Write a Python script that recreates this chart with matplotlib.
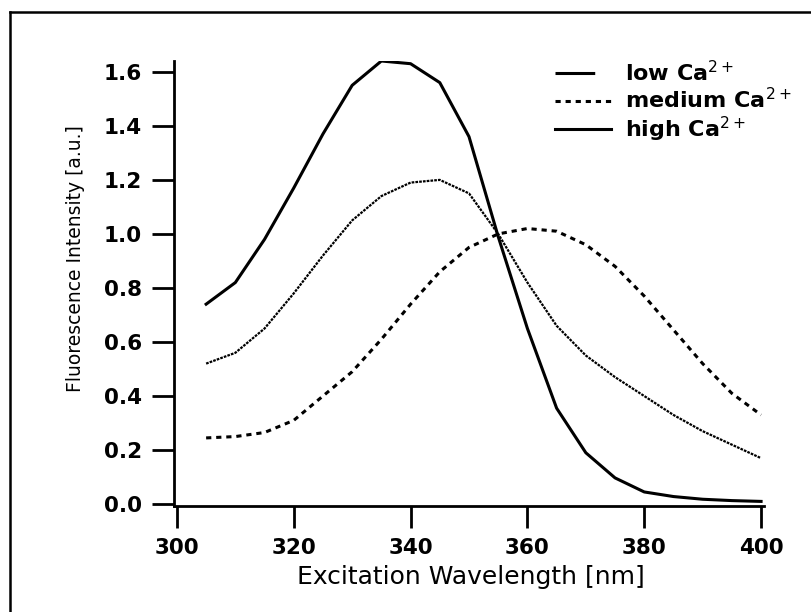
"""
Fluorescence excitation spectra at three Ca2+ levels
"""
import matplotlib
matplotlib.use("Agg")
import matplotlib.pyplot as plt
from matplotlib.lines import Line2D

plt.rcParams['font.family'] = ['DejaVu Sans']

# excitation wavelengths (nm), one point every 5 nm
wavelength = [305, 310, 315, 320, 325, 330, 335, 340, 345, 350,
              355, 360, 365, 370, 375, 380, 385, 390, 395, 400]

# intensities
low_ca = [0.52, 0.56, 0.65, 0.78, 0.92, 1.05, 1.14, 1.19, 1.20, 1.15,
          1.00, 0.82, 0.66, 0.55, 0.47, 0.40, 0.33, 0.27, 0.22, 0.17]
medium_ca = [0.245, 0.25, 0.265, 0.31, 0.40, 0.49, 0.61, 0.74, 0.86, 0.95,
             1.00, 1.02, 1.01, 0.96, 0.88, 0.77, 0.645, 0.52, 0.41, 0.33]
high_ca = [0.74, 0.82, 0.98, 1.17, 1.37, 1.55, 1.64, 1.63, 1.56, 1.36,
           0.99, 0.65, 0.355, 0.19, 0.097, 0.045, 0.028, 0.018, 0.013, 0.01]

x_ticks = [300, 320, 340, 360, 380, 400]
y_ticks = [0.0, 0.2, 0.4, 0.6, 0.8, 1.0, 1.2, 1.4, 1.6]
labels = ["low Ca$^{2+}$", "medium Ca$^{2+}$", "high Ca$^{2+}$"]

fig = plt.figure(figsize=(8.12, 6.12), dpi=100)
ax = fig.add_axes([174 / 812, 106 / 612, 590 / 812, 445 / 612])

# the curves
ax.plot(wavelength, low_ca, color="black", lw=1.6, linestyle=(0, (1.2, 0.5)))
ax.plot(wavelength, medium_ca, color="black", lw=2.2, linestyle=(0, (1.7, 1.6)))
ax.plot(wavelength, high_ca, color="black", lw=2.2)

ax.set_xlim(299.5, 400.5)
ax.set_ylim(-0.007, 1.64)
ax.set_xticks(x_ticks)
ax.set_yticks(y_ticks)
ax.set_yticklabels([f"{v:.1f}" for v in y_ticks])

for side in ["top", "right"]:
    ax.spines[side].set_visible(False)
for side in ["left", "bottom"]:
    ax.spines[side].set_linewidth(2.0)
ax.tick_params(direction="out", length=16, width=2.0, pad=7,
               labelsize=15.5)
for lab in ax.get_xticklabels() + ax.get_yticklabels():
    lab.set_fontweight("bold")

ax.set_xlabel("Excitation Wavelength [nm]", fontsize=18, va="center")
ax.xaxis.set_label_coords((471 - 174) / 590, (506 - 577) / 445)
ax.set_ylabel("Fluorescence Intensity [a.u.]", fontsize=13.5, va="center")
ax.yaxis.set_label_coords((76 - 174) / 590, (506 - 259) / 445)

# legend: the low handle is one long dash
handles = [
    Line2D([], [], color="black", lw=2.2, dashes=(13, 20)),
    Line2D([], [], color="black", lw=2.2, dashes=(1.7, 1.6)),
    Line2D([], [], color="black", lw=2.2),
]
leg = ax.legend(handles, labels, loc="upper left",
                bbox_to_anchor=((555 - 174) / 590, (506 - 60) / 445),
                frameon=False, borderpad=0, borderaxespad=0,
                handlelength=2.5, handletextpad=0.65, labelspacing=0.1,
                prop={"size": 16, "weight": "bold"})

# frame around the picture (left and top edges)
fig.add_artist(Line2D([10 / 812, 10 / 812], [0, 1 - 12 / 612],
                      transform=fig.transFigure, color="black", lw=1.8))
fig.add_artist(Line2D([10 / 812, 1], [1 - 12 / 612, 1 - 12 / 612],
                      transform=fig.transFigure, color="black", lw=1.8))

fig.savefig("out.png", dpi=100)
